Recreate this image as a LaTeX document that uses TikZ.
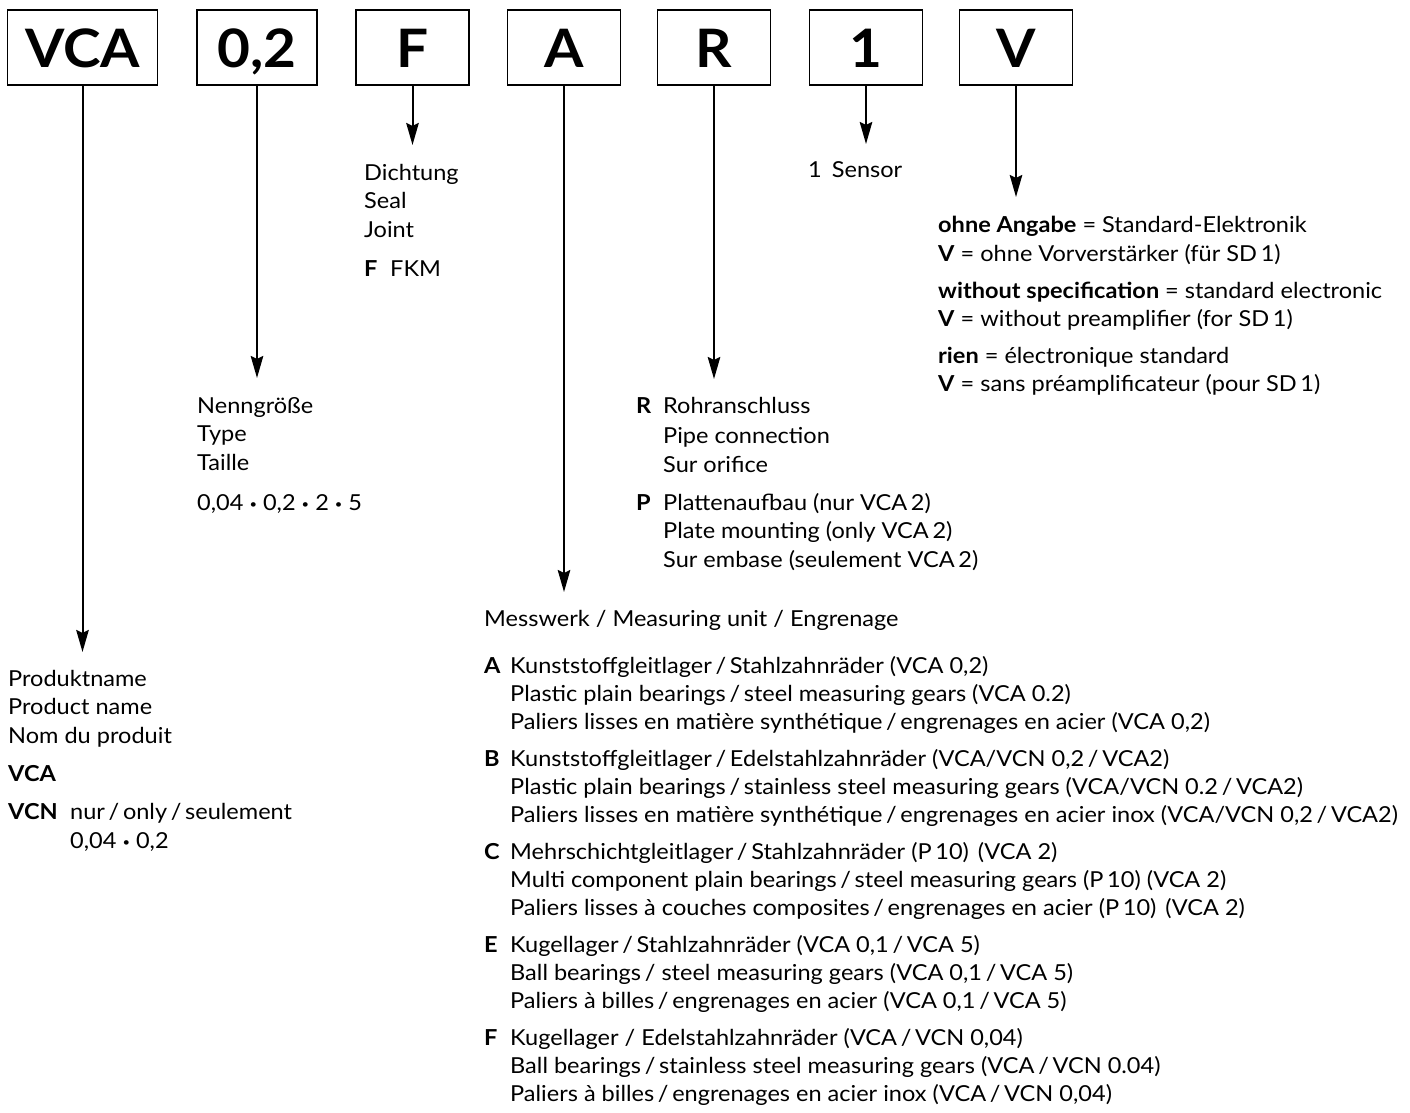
\documentclass[tikz,border=0pt]{standalone}
\usepackage{fontspec}
\setmainfont{Lato}[FakeStretch=1.07]
\usetikzlibrary{arrows.meta}
\newcommand{\bul}{\raisebox{2pt}{\scalebox{0.55}{•}}}
\begin{document}
\begin{tikzpicture}[x=1pt,y=-1pt,
  codebox/.style={draw, line width=1.5pt, minimum height=75pt, inner sep=0pt,
    text height=40pt, text depth=0pt,
    font=\fontsize{53}{53}\selectfont\bfseries},
  txt/.style={anchor=base west, inner sep=0pt, font=\fontsize{22}{26}\selectfont},
  conn/.style={line width=2pt, -{Stealth[length=22pt,width=12.5pt,inset=3pt]}}]
\useasboundingbox (0,0) rectangle (1410,1113);

% code boxes
\node[codebox, minimum width=150pt] (bVCA) at (82.5,47.5) {VCA};
\node[codebox, minimum width=120pt] (bSize) at (257,47.5) {0,2};
\node[codebox, minimum width=113pt] (bF) at (412.5,47.5) {F};
\node[codebox, minimum width=113pt] (bA) at (564,47.5) {A};
\node[codebox, minimum width=113pt] (bR) at (714,47.5) {R};
\node[codebox, minimum width=113pt] (b1) at (866,47.5) {1};
\node[codebox, minimum width=113pt] (bV) at (1016,47.5) {V};

% arrow end points
\coordinate (eVCA) at (82.5,652);
\coordinate (eSize) at (257,378);
\coordinate (eF) at (412.5,145);
\coordinate (eA) at (564,592);
\coordinate (eR) at (714,379);
\coordinate (e1) at (866,144);
\coordinate (eV) at (1016,197);

\draw[conn] (bVCA.south) -- (eVCA);
\draw[conn] (bSize.south) -- (eSize);
\draw[conn] (bF.south) -- (eF);
\draw[conn] (bA.south) -- (eA);
\draw[conn] (bR.south) -- (eR);
\draw[conn] (b1.south) -- (e1);
\draw[conn] (bV.south) -- (eV);

% seal
\node[txt] (f1) at (364,180) {Dichtung};
\node[txt] (f2) at (364,208) {Seal};
\node[txt] (f3) at (364,237) {Joint};
\node[txt] (f4) at (364,276) {\textbf{F}};
\node[txt] (f5) at (390,276) {FKM};

% sensor
\node[txt] (s1) at (808,177) {1\hspace{10pt}Sensor};

% electronics
\node[txt] (v1) at (938,232) {\textbf{ohne Angabe} = Standard-Elektronik};
\node[txt] (v2) at (938,261) {\textbf{V} = ohne Vorverstärker (für SD\,1)};
\node[txt] (v3) at (938,298) {\textbf{without specification} = standard electronic};
\node[txt] (v4) at (938,326) {\textbf{V} = without preamplifier (for SD\,1)};
\node[txt] (v5) at (938,363) {\textbf{rien} = électronique standard};
\node[txt] (v6) at (938,391) {\textbf{V} = sans préamplificateur (pour SD\,1)};

% size
\node[txt] (n1) at (197,413) {Nenngröße};
\node[txt] (n2) at (197,441) {Type};
\node[txt] (n3) at (197,470) {Taille};
\node[txt] (n4) at (197,510) {0,04 \bul{} 0,2 \bul{} 2 \bul{} 5};

% connection
\node[txt] (rR) at (636,413) {\textbf{R}};
\node[txt] (r1) at (663,413) {Rohranschluss};
\node[txt] (r2) at (663,443) {Pipe connection};
\node[txt] (r3) at (663,472) {Sur orifice};
\node[txt] (rP) at (636,510) {\textbf{P}};
\node[txt] (p1) at (663,510) {Plattenaufbau\hspace{6pt}(nur VCA\,2)};
\node[txt] (p2) at (663,538) {Plate mounting\hspace{6pt}(only VCA\,2)};
\node[txt] (p3) at (663,567) {Sur embase (seulement VCA\,2)};

% measuring unit
\node[txt] (m0) at (484,626) {Messwerk / Measuring unit / Engrenage};
\node[txt] (mA) at (484,673) {\textbf{A}};
\node[txt] (a1) at (510,673) {Kunststoffgleitlager\,/\,Stahlzahnräder (VCA 0,2)};
\node[txt] (a2) at (510,701) {Plastic plain bearings\,/\,steel measuring gears (VCA 0.2)};
\node[txt] (a3) at (510,729) {Paliers lisses en matière synthétique\,/\,engrenages en acier (VCA 0,2)};
\node[txt] (mB) at (484,766) {\textbf{B}};
\node[txt] (b1t) at (510,766) {Kunststoffgleitlager\,/\,Edelstahlzahnräder (VCA/VCN 0,2\,/\,VCA2)};
\node[txt] (b2t) at (510,794) {Plastic plain bearings\,/\,stainless steel measuring gears (VCA/VCN 0.2\,/\,VCA2)};
\node[txt] (b3t) at (510,822) {Paliers lisses en matière synthétique\,/\,engrenages en acier inox (VCA/VCN 0,2\,/\,VCA2)};
\node[txt] (mC) at (484,859) {\textbf{C}};
\node[txt] (c1) at (510,859) {Mehrschichtgleitlager\,/\,Stahlzahnräder (P\,10)\hspace{9pt}(VCA 2)};
\node[txt] (c2) at (510,887) {Multi component plain bearings\,/\,steel measuring gears (P\,10) (VCA 2)};
\node[txt] (c3) at (510,915) {Paliers lisses à couches composites\,/\,engrenages en acier (P\,10)\hspace{9pt}(VCA 2)};
\node[txt] (mE) at (484,952) {\textbf{E}};
\node[txt] (e1t) at (510,952) {Kugellager\,/\,Stahlzahnräder (VCA 0,1\,/\,VCA 5)};
\node[txt] (e2t) at (510,980) {Ball bearings\,/ steel measuring gears (VCA 0,1\,/\,VCA 5)};
\node[txt] (e3t) at (510,1008) {Paliers à billes\,/\,engrenages en acier (VCA 0,1\,/\,VCA 5)};
\node[txt] (mF) at (484,1045) {\textbf{F}};
\node[txt] (g1) at (510,1045) {Kugellager / Edelstahlzahnräder (VCA\,/\,VCN 0,04)};
\node[txt] (g2) at (510,1073) {Ball bearings\,/\,stainless steel measuring gears (VCA\,/\,VCN 0.04)};
\node[txt] (g3) at (510,1101) {Paliers à billes\,/\,engrenages en acier inox (VCA\,/\,VCN 0,04)};

% product name
\node[txt] (q1) at (8,686) {Produktname};
\node[txt] (q2) at (8,714) {Product name};
\node[txt] (q3) at (8,743) {Nom du produit};
\node[txt] (q4) at (8,781) {\textbf{VCA}};
\node[txt] (q5) at (8,819) {\textbf{VCN}};
\node[txt] (q6) at (70,819) {nur\,/\,only\,/\,seulement};
\node[txt] (q7) at (70,848) {0,04 \bul{} 0,2};
\end{tikzpicture}
\end{document}
